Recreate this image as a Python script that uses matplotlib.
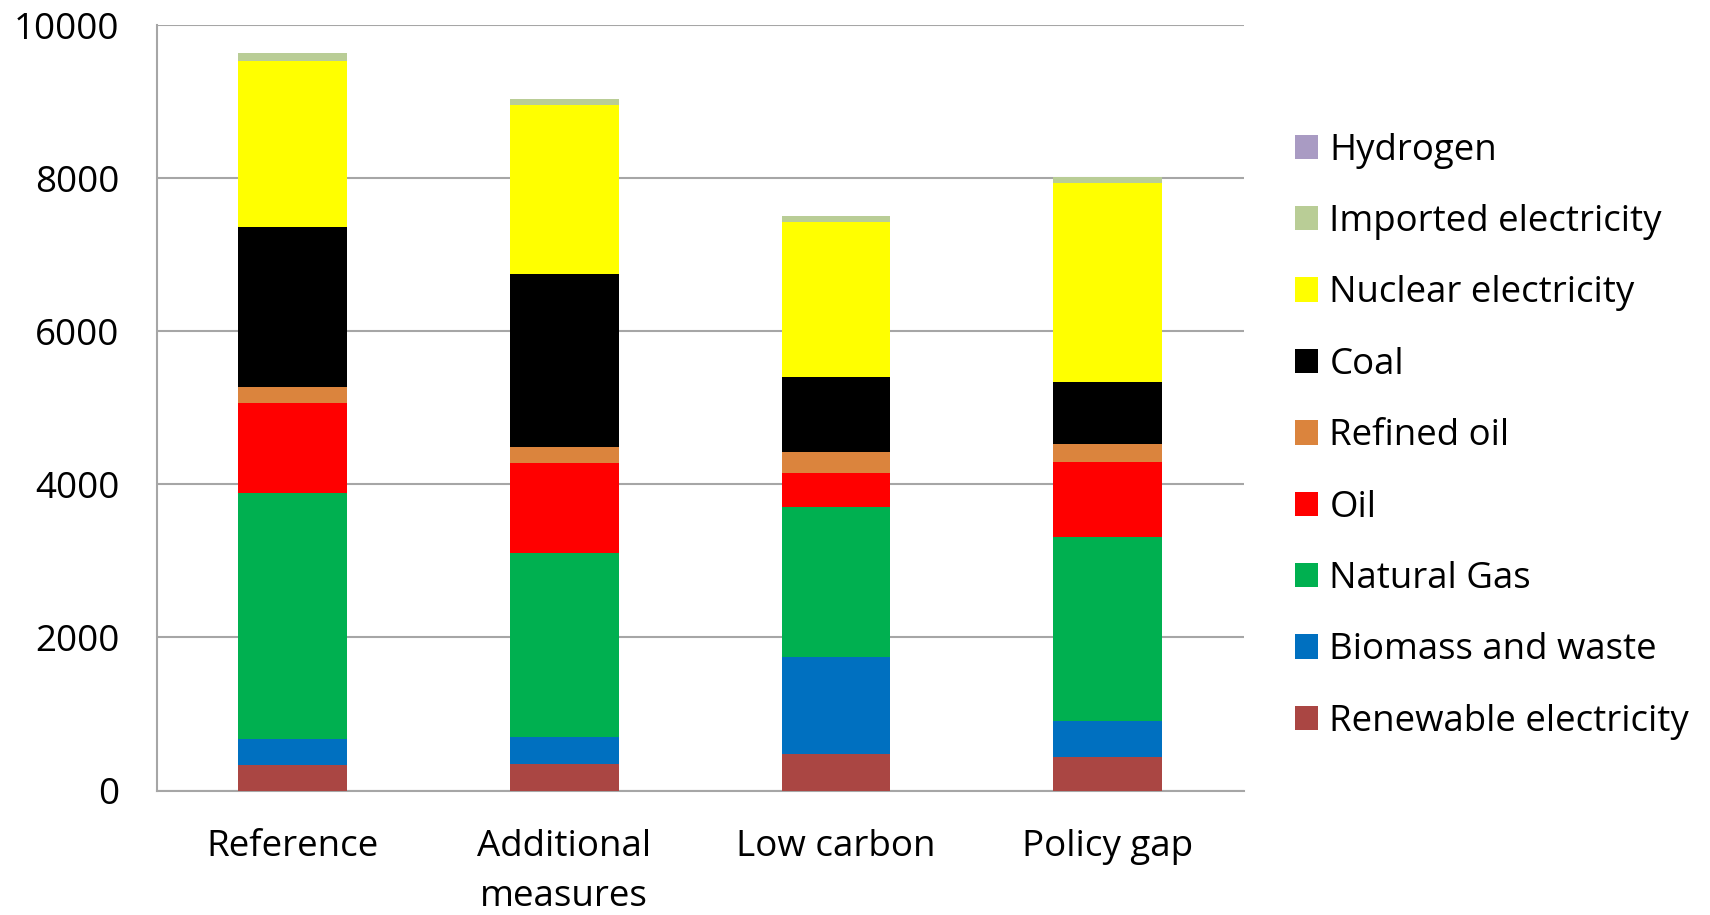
import matplotlib
matplotlib.use("Agg")
import matplotlib.pyplot as plt
import numpy as np

plt.rcParams['font.family'] = ['Open Sans', 'DejaVu Sans']

scenarios = ["Reference", "Additional\nmeasures", "Low carbon", "Policy gap"]

# stack order from the bottom up
renewable = [330, 350, 477, 438]
biomass = [340, 345, 1264, 470]
natural_gas = [3220, 2405, 1960, 2405]
oil = [1170, 1176, 444, 984]
refined_oil = [210, 209, 275, 231]
coal = [2090, 2261, 980, 814]
nuclear = [2170, 2212, 2030, 2597]
imported = [110, 83, 82, 83]
hydrogen = [0, 0, 0, 0]

series = [
    ("Renewable electricity", renewable, "#AA4643"),
    ("Biomass and waste", biomass, "#0070C0"),
    ("Natural Gas", natural_gas, "#00B050"),
    ("Oil", oil, "#FF0000"),
    ("Refined oil", refined_oil, "#DB843D"),
    ("Coal", coal, "#000000"),
    ("Nuclear electricity", nuclear, "#FFFF00"),
    ("Imported electricity", imported, "#B9CD96"),
    ("Hydrogen", hydrogen, "#A99BC3"),
]

fig = plt.figure(figsize=(17.1, 9.15), dpi=100)
ax = fig.add_axes([0.0916, 0.136, 0.6356, 0.8364])

x = np.arange(len(scenarios))
bottom = np.zeros(len(scenarios))
handles = []
for name, vals, col in series:
    b = ax.bar(x, vals, width=0.4, bottom=bottom, color=col, label=name, zorder=3)
    handles.append(b)
    bottom += np.array(vals)

ax.set_xlim(-0.5, 3.5)
ax.set_ylim(0, 10000)
ax.set_yticks([0, 2000, 4000, 6000, 8000, 10000])
ax.set_xticks(x)
ax.set_xticklabels(scenarios, fontsize=26.5, linespacing=1.49)
ax.tick_params(axis='y', labelsize=26.5, length=0, pad=27)
ax.tick_params(axis='x', length=0, pad=28)
for lbl in ax.get_xticklabels():
    lbl.set_verticalalignment('top')

ax.grid(axis='y', color='#A6A6A6', linewidth=1.5, zorder=0)
for s in ['top', 'right']:
    ax.spines[s].set_visible(False)
for s in ['left', 'bottom']:
    ax.spines[s].set_color('#A6A6A6')
    ax.spines[s].set_linewidth(1.5)

# legend lists the top of the stack first
fig.legend(handles[::-1], [h.get_label() for h in handles[::-1]],
           loc='upper left', bbox_to_anchor=(0.7485, 0.871), frameon=False,
           fontsize=26.4, handlelength=0.65, handleheight=0.65,
           handletextpad=0.3, labelspacing=0.965, borderaxespad=0)

fig.savefig("out.png", dpi=100)
